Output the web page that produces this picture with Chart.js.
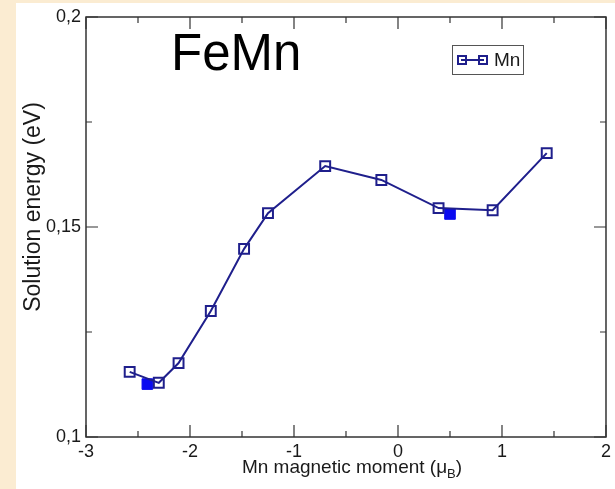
<!DOCTYPE html>
<html>
<head>
<meta charset="utf-8">
<script src="https://cdn.jsdelivr.net/npm/chart.js@4/dist/chart.umd.min.js"></script>
<style>
  html, body { margin: 0; padding: 0; }
  body { background: #fbecd2; width: 615px; height: 489px; overflow: hidden; position: relative; }
  #panel { position: absolute; left: 16px; top: 3px; width: 599px; height: 486px; background: #ffffff; }
  #wrap { position: absolute; left: 0; top: 0; width: 615px; height: 489px; }
</style>
</head>
<body>
<div id="panel"></div>
<div id="wrap"><canvas id="c" width="615" height="489"></canvas></div>
<script>
// ---- data ----
const chartTitle = 'FeMn';
const seriesLabel = 'Mn';
const mnMoment = [-2.58, -2.30, -2.11, -1.80, -1.48, -1.25, -0.70, -0.16, 0.39, 0.91, 1.43];
const solutionEnergy = [0.1155, 0.1129, 0.1176, 0.1300, 0.1448, 0.1533, 0.1645, 0.1612, 0.1545, 0.1540, 0.1676];
const groundMoment = [-2.41, 0.50];
const groundEnergy = [0.1126, 0.1531];
const xTickValues = [-3, -2, -1, 0, 1, 2];
const xTickLabels = ['-3', '-2', '-1', '0', '1', '2'];
const xMinorValues = [-2.5, -1.5, -0.5, 0.5, 1.5];
const yTickValues = [0.1, 0.15, 0.2];
const yTickLabels = ['0,1', '0,15', '0,2'];
const yMinorValues = [0.125, 0.175];
const xTitle = 'Mn magnetic moment (\u03bc';
const xTitleSub = 'B';
const yTitle = 'Solution energy (eV)';

const FONT = '"Liberation Sans", Arial, sans-serif';
const lineColor = '#1f1f8c';
const fillColor = '#0a0af0';
const frameColor = '#333333';
const textColor = '#1a1a1a';

const mainPts = mnMoment.map((x, i) => ({ x: x, y: solutionEnergy[i] }));
const groundPts = groundMoment.map((x, i) => ({ x: x, y: groundEnergy[i] }));

const framePlugin = {
  id: 'framePlugin',
  afterDatasetsDraw(chart) {
    const ctx = chart.ctx;
    const a = chart.chartArea;
    const xs = chart.scales.x, ys = chart.scales.y;
    ctx.save();
    ctx.strokeStyle = frameColor;
    ctx.lineWidth = 1.5;
    ctx.strokeRect(a.left, a.top, a.right - a.left, a.bottom - a.top);
    ctx.lineWidth = 1.2;
    const major = 12, minor = 6;
    ctx.beginPath();
    xTickValues.forEach(v => {
      const p = xs.getPixelForValue(v);
      ctx.moveTo(p, a.bottom); ctx.lineTo(p, a.bottom - major);
      ctx.moveTo(p, a.top); ctx.lineTo(p, a.top + major);
    });
    xMinorValues.forEach(v => {
      const p = xs.getPixelForValue(v);
      ctx.moveTo(p, a.bottom); ctx.lineTo(p, a.bottom - minor);
      ctx.moveTo(p, a.top); ctx.lineTo(p, a.top + minor);
    });
    yTickValues.forEach(v => {
      const p = ys.getPixelForValue(v);
      ctx.moveTo(a.left, p); ctx.lineTo(a.left + major, p);
      ctx.moveTo(a.right, p); ctx.lineTo(a.right - major, p);
    });
    yMinorValues.forEach(v => {
      const p = ys.getPixelForValue(v);
      ctx.moveTo(a.left, p); ctx.lineTo(a.left + minor, p);
      ctx.moveTo(a.right, p); ctx.lineTo(a.right - minor, p);
    });
    ctx.stroke();

    // big in-plot title
    ctx.fillStyle = '#000';
    ctx.font = '51px ' + FONT;
    ctx.textAlign = 'left';
    ctx.textBaseline = 'alphabetic';
    ctx.fillText(chartTitle, a.left + 85, a.top + 53);

    // legend box
    const lx = a.left + 366, ly = a.top + 28, lw = 71, lh = 29;
    ctx.fillStyle = '#fff';
    ctx.fillRect(lx, ly, lw, lh);
    ctx.strokeStyle = '#555';
    ctx.lineWidth = 1;
    ctx.strokeRect(lx + 0.5, ly + 0.5, lw, lh);
    const my = ly + 15;
    ctx.strokeStyle = lineColor;
    ctx.lineWidth = 2;
    ctx.beginPath();
    ctx.moveTo(lx + 9, my); ctx.lineTo(lx + 32, my);
    ctx.stroke();
    ctx.strokeRect(lx + 6, my - 4, 8, 8);
    ctx.strokeRect(lx + 27, my - 4, 8, 8);
    ctx.fillStyle = textColor;
    ctx.font = '19px ' + FONT;
    ctx.textBaseline = 'middle';
    ctx.fillText(seriesLabel, lx + 42, my + 1);

    // y axis title
    ctx.save();
    ctx.translate(40, a.top + 190);
    ctx.rotate(-Math.PI / 2);
    ctx.font = '23px ' + FONT;
    ctx.textAlign = 'center';
    ctx.textBaseline = 'alphabetic';
    ctx.fillStyle = textColor;
    ctx.fillText(yTitle, 0, 0);
    ctx.restore();

    // x axis title with subscript
    ctx.font = '19px ' + FONT;
    const w1 = ctx.measureText(xTitle).width;
    ctx.font = '13px ' + FONT;
    const w2 = ctx.measureText(xTitleSub).width;
    ctx.font = '19px ' + FONT;
    const w3 = ctx.measureText(')').width;
    const total = w1 + w2 + w3;
    let tx = (a.left + a.right) / 2 + 6 - total / 2;
    const ty = 473;
    ctx.textAlign = 'left';
    ctx.textBaseline = 'alphabetic';
    ctx.fillStyle = textColor;
    ctx.fillText(xTitle, tx, ty);
    tx += w1;
    ctx.font = '13px ' + FONT;
    ctx.fillText(xTitleSub, tx, ty + 5);
    tx += w2;
    ctx.font = '19px ' + FONT;
    ctx.fillText(')', tx, ty);
    ctx.restore();
  }
};

new Chart(document.getElementById('c'), {
  type: 'line',
  data: {
    datasets: [
      {
        label: seriesLabel,
        data: mainPts,
        borderColor: lineColor,
        borderWidth: 2,
        pointStyle: 'rect',
        pointRadius: 7,
        pointBorderWidth: 2,
        pointBorderColor: lineColor,
        pointBackgroundColor: 'rgba(0,0,0,0)',
        tension: 0,
        fill: false
      },
      {
        label: 'ground state',
        data: groundPts,
        showLine: false,
        pointStyle: 'rect',
        pointRadius: 7.5,
        pointBorderWidth: 1,
        pointBorderColor: fillColor,
        pointBackgroundColor: fillColor
      }
    ]
  },
  options: {
    responsive: false,
    animation: false,
    devicePixelRatio: 1,
    layout: { padding: { left: 0, top: 17, right: 6, bottom: 0 } },
    plugins: {
      legend: { display: false },
      tooltip: { enabled: false },
      title: { display: false }
    },
    scales: {
      x: {
        type: 'linear',
        min: -3, max: 2,
        afterFit(s) { s.height = 52; },
        afterBuildTicks(s) { s.ticks = xTickValues.map(v => ({ value: v })); },
        grid: { display: false, drawTicks: false },
        border: { display: false },
        ticks: {
          padding: 4,
          color: textColor,
          font: { family: FONT, size: 18 },
          maxRotation: 0,
          callback: (v, i) => xTickLabels[i]
        }
      },
      y: {
        type: 'linear',
        min: 0.1, max: 0.2,
        afterFit(s) { s.width = 86; },
        afterBuildTicks(s) { s.ticks = yTickValues.map(v => ({ value: v })); },
        grid: { display: false, drawTicks: false },
        border: { display: false },
        ticks: {
          padding: 5,
          color: textColor,
          font: { family: FONT, size: 18 },
          callback: (v, i) => yTickLabels[i]
        }
      }
    }
  },
  plugins: [framePlugin]
});
</script>
</body>
</html>
